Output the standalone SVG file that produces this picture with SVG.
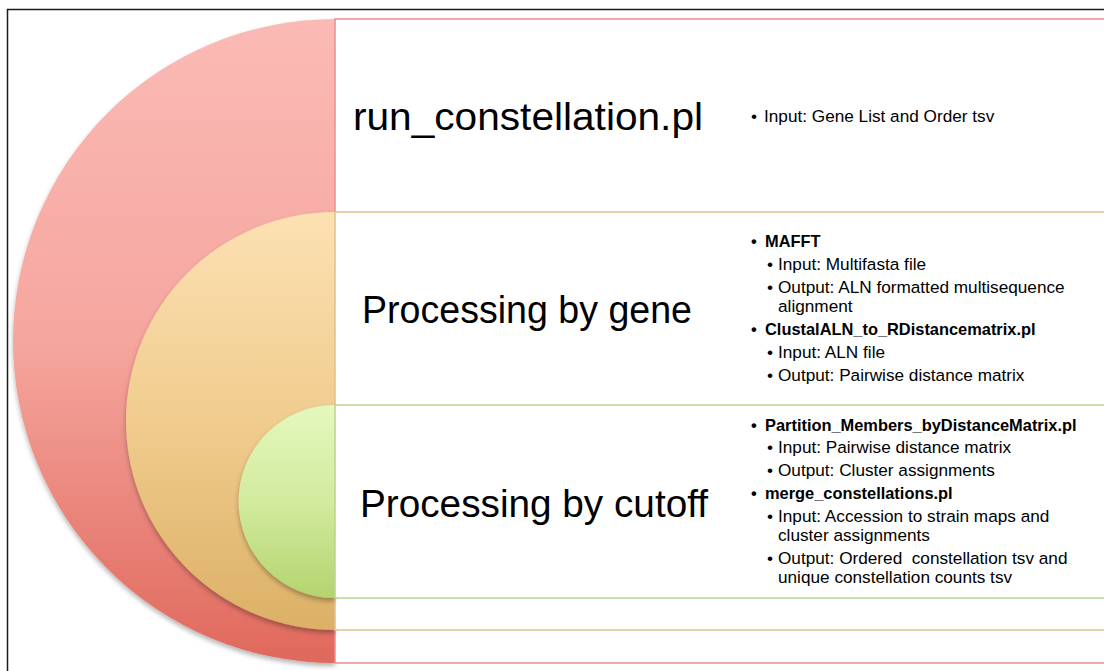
<svg xmlns="http://www.w3.org/2000/svg" width="1104" height="671" viewBox="0 0 1104 671">
  <style>
    .title { font-family: "Liberation Sans", Arial, sans-serif; font-size: 38px; fill: #000; }
    .item { font-family: "Liberation Sans", Arial, sans-serif; font-size: 17.2px; fill: #000; white-space: pre; }
    .bold { font-weight: bold; font-size: 16.4px; }
    .box { fill: #fff; stroke-width: 1.5; }
  </style>
  <defs>
    <linearGradient id="gRed" x1="0" y1="0" x2="0" y2="1">
      <stop offset="0" stop-color="#fbbab6"/>
      <stop offset="0.5" stop-color="#f5a69e"/>
      <stop offset="1" stop-color="#e0685c"/>
    </linearGradient>
    <linearGradient id="gOrange" x1="0" y1="0" x2="0" y2="1">
      <stop offset="0" stop-color="#fce1b3"/>
      <stop offset="0.5" stop-color="#f0cc8e"/>
      <stop offset="1" stop-color="#dcb066"/>
    </linearGradient>
    <linearGradient id="gGreen" x1="0" y1="0" x2="0" y2="1">
      <stop offset="0" stop-color="#e4f8bd"/>
      <stop offset="0.5" stop-color="#d2eb9e"/>
      <stop offset="1" stop-color="#b4d46e"/>
    </linearGradient>
    <filter id="shadow" x="-10%" y="-10%" width="120%" height="125%">
      <feDropShadow dx="0" dy="3" stdDeviation="2.5" flood-color="#000" flood-opacity="0.3"/>
    </filter>
  </defs>

  <!-- page frame -->
  <rect x="7.5" y="9.5" width="1110" height="690" fill="#fff" stroke="#1a1a1a" stroke-width="1.5"/>

  <!-- outer level: run_constellation.pl -->
  <g id="level-run">
    <path d="M335,19 A322,322 0 0 0 335,663 Z" fill="url(#gRed)" filter="url(#shadow)"/>
    <rect class="box" x="335" y="19" width="790" height="644" stroke="#ea8f8a"/>
    <text class="title" x="353" y="130" textLength="350" lengthAdjust="spacingAndGlyphs">run_constellation.pl</text>
    <text class="item" x="751" y="122">•<tspan x="764">Input: Gene List and Order tsv</tspan></text>
  </g>

  <!-- middle level: Processing by gene -->
  <g id="level-gene">
    <path d="M335,212 A209,209 0 0 0 335,630 Z" fill="url(#gOrange)" filter="url(#shadow)"/>
    <rect class="box" x="335" y="212" width="790" height="418" stroke="#e2c08c"/>
    <text class="title" x="362" y="323" textLength="330" lengthAdjust="spacingAndGlyphs">Processing by gene</text>
    <text class="item bold" x="751" y="247">•<tspan x="765">MAFFT</tspan></text>
    <text class="item" x="767" y="270">•<tspan x="778">Input: Multifasta file</tspan></text>
    <text class="item" x="767" y="293">•<tspan x="778">Output: ALN formatted multisequence</tspan></text>
    <text class="item" x="778" y="312">alignment</text>
    <text class="item bold" x="751" y="335">•<tspan x="765">ClustalALN_to_RDistancematrix.pl</tspan></text>
    <text class="item" x="767" y="358">•<tspan x="778">Input: ALN file</tspan></text>
    <text class="item" x="767" y="381">•<tspan x="778">Output: Pairwise distance matrix</tspan></text>
  </g>

  <!-- inner level: Processing by cutoff -->
  <g id="level-cutoff">
    <path d="M335,405 A96.5,96.5 0 0 0 335,598 Z" fill="url(#gGreen)" filter="url(#shadow)"/>
    <rect class="box" x="335" y="405" width="790" height="193" stroke="#b9d58c"/>
    <text class="title" x="360" y="517" textLength="348" lengthAdjust="spacingAndGlyphs">Processing by cutoff</text>
    <text class="item bold" x="751" y="431">•<tspan x="765">Partition_Members_byDistanceMatrix.pl</tspan></text>
    <text class="item" x="767" y="453">•<tspan x="778">Input: Pairwise distance matrix</tspan></text>
    <text class="item" x="767" y="476">•<tspan x="778">Output: Cluster assignments</tspan></text>
    <text class="item bold" x="751" y="499">•<tspan x="765">merge_constellations.pl</tspan></text>
    <text class="item" x="767" y="522">•<tspan x="778">Input: Accession to strain maps and</tspan></text>
    <text class="item" x="778" y="541">cluster assignments</text>
    <text class="item" x="767" y="564">•<tspan x="778">Output: Ordered  constellation tsv and</tspan></text>
    <text class="item" x="778" y="583">unique constellation counts tsv</text>
  </g>
</svg>
